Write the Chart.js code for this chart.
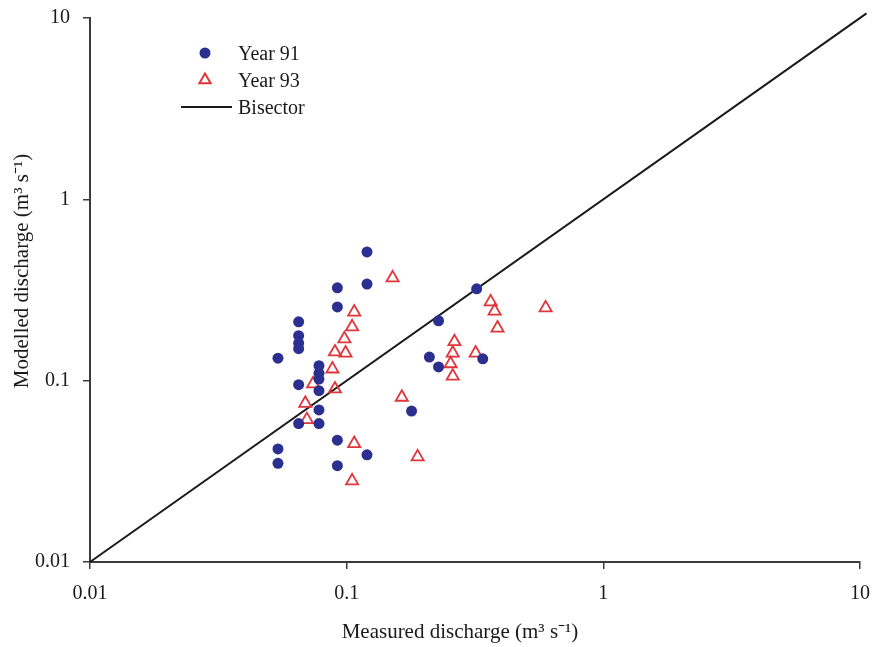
<!DOCTYPE html>
<html>
<head>
<meta charset="utf-8">
<script src="https://cdn.jsdelivr.net/npm/chart.js@4/dist/chart.umd.min.js"></script>
<style>
  html, body { margin: 0; padding: 0; background: #fff; }
  #wrap { width: 875px; height: 647px; position: relative; }
</style>
</head>
<body>
<div id="wrap"><canvas id="c"></canvas></div>
<script>
/* Measured vs modelled discharge, log-log, with the 1:1 bisector.
   Values. */
const year91X = [0.12, 0.12, 0.092, 0.092, 0.065, 0.065, 0.065, 0.065, 0.054, 0.078,
                 0.078, 0.078, 0.065, 0.078, 0.078, 0.065, 0.078, 0.092, 0.054, 0.12,
                 0.054, 0.092, 0.179, 0.321, 0.228, 0.210, 0.228, 0.339];
const year91Y = [0.513, 0.341, 0.325, 0.255, 0.211, 0.177, 0.161, 0.150, 0.133, 0.121,
                 0.110, 0.102, 0.095, 0.088, 0.069, 0.058, 0.058, 0.047, 0.042, 0.039,
                 0.035, 0.034, 0.068, 0.321, 0.214, 0.135, 0.119, 0.132];
const year93X = [0.151, 0.107, 0.105, 0.098, 0.090, 0.099, 0.088, 0.074, 0.090, 0.069,
                 0.070, 0.107, 0.105, 0.164, 0.189, 0.364, 0.377, 0.387, 0.596, 0.263,
                 0.259, 0.318, 0.254, 0.259];
const year93Y = [0.369, 0.239, 0.198, 0.170, 0.144, 0.142, 0.116, 0.096, 0.090, 0.075,
                 0.061, 0.045, 0.028, 0.081, 0.038, 0.272, 0.242, 0.195, 0.252, 0.164,
                 0.142, 0.142, 0.124, 0.106];
const bisectorX = [0.01, 10.6];
const bisectorY = [0.01, 10.6];
const tickValues = [0.01, 0.1, 1, 10];
const tickLabels = ["0.01", "0.1", "1", "10"];
const seriesNames = ["Year 91", "Year 93", "Bisector"];
const xTitle = "Measured discharge (m\u00B3 s\u207B\u00B9)";
const yTitle = "Modelled discharge (m\u00B3 s\u207B\u00B9)";

const BLUE = "#2b2f8f", RED = "#e0353a", AXIS = "#3a3a3a", INK = "#1a1a1a";
const FONT = "'Liberation Serif', 'Times New Roman', serif";

const pts = (xs, ys) => xs.map((x, i) => ({ x, y: ys[i] }));

// legend inside the plot (top-left) plus the axis titles, which sit a bit
// left of / above the plot centre in the original figure
const decorPlugin = {
  id: "decor",
  afterDraw(chart) {
    const ctx = chart.ctx;
    ctx.save();
    ctx.font = "20px " + FONT;
    ctx.textBaseline = "middle";
    const mx = 205, tx = 238, rows = [53, 80, 107];
    ctx.beginPath(); ctx.arc(mx, rows[0], 5.5, 0, Math.PI * 2);
    ctx.fillStyle = BLUE; ctx.fill();
    const r = 6.5;
    ctx.beginPath();
    ctx.moveTo(mx, rows[1] - r);
    ctx.lineTo(mx + r * 0.866, rows[1] + r * 0.5);
    ctx.lineTo(mx - r * 0.866, rows[1] + r * 0.5);
    ctx.closePath();
    ctx.strokeStyle = RED; ctx.lineWidth = 2; ctx.stroke();
    ctx.beginPath(); ctx.moveTo(181, rows[2]); ctx.lineTo(232, rows[2]);
    ctx.strokeStyle = INK; ctx.lineWidth = 2; ctx.stroke();
    ctx.fillStyle = INK;
    seriesNames.forEach((n, i) => ctx.fillText(n, tx, rows[i] + 1.5));

    // axis titles
    ctx.font = "21px " + FONT;
    ctx.textAlign = "center";
    ctx.fillText(xTitle, 460, 632);
    ctx.translate(22, 271);
    ctx.rotate(-Math.PI / 2);
    ctx.fillText(yTitle, 0, 0);
    ctx.restore();
  }
};

const logAxis = (pos, tickPad, size) => ({
  type: "logarithmic",
  position: pos,
  min: 0.01, max: 10,
  afterBuildTicks: s => { s.ticks = tickValues.map(v => ({ value: v })); },
  afterFit: s => {
    if (pos === "left") s.width = size; else s.height = size;
    // keep the plot box where the original has it, labels may overhang
    s.paddingLeft = s.paddingRight = s.paddingTop = s.paddingBottom = 0;
  },
  ticks: {
    autoSkip: false, maxRotation: 0, padding: tickPad,
    color: INK, font: { family: FONT, size: 20 },
    callback: (v) => tickLabels[tickValues.indexOf(v)] ?? ""
  },
  grid: { drawOnChartArea: false, drawTicks: true, tickLength: 7, color: AXIS, lineWidth: 1.5 },
  border: { color: AXIS, width: 2 },
  title: { display: false }
});

new Chart(document.getElementById("c"), {
  type: "scatter",
  data: {
    datasets: [
      { label: seriesNames[0], data: pts(year91X, year91Y), pointStyle: "circle",
        pointRadius: 5.5, backgroundColor: BLUE, borderColor: BLUE, borderWidth: 0 },
      { label: seriesNames[1], data: pts(year93X, year93Y), pointStyle: "triangle",
        pointRadius: 7, backgroundColor: "rgba(0,0,0,0)", borderColor: RED, borderWidth: 1.8 },
      { label: seriesNames[2], data: pts(bisectorX, bisectorY), showLine: true,
        pointRadius: 0, borderColor: INK, borderWidth: 2, clip: false }
    ]
  },
  options: {
    responsive: true, maintainAspectRatio: false, animation: false,
    layout: { padding: { top: 18, right: 15, left: 0, bottom: 0 } },
    plugins: { legend: { display: false }, tooltip: { enabled: false } },
    scales: {
      x: logAxis("bottom", 13, 85),
      y: logAxis("left", 13, 90)
    }
  },
  plugins: [decorPlugin]
});
</script>
</body>
</html>
